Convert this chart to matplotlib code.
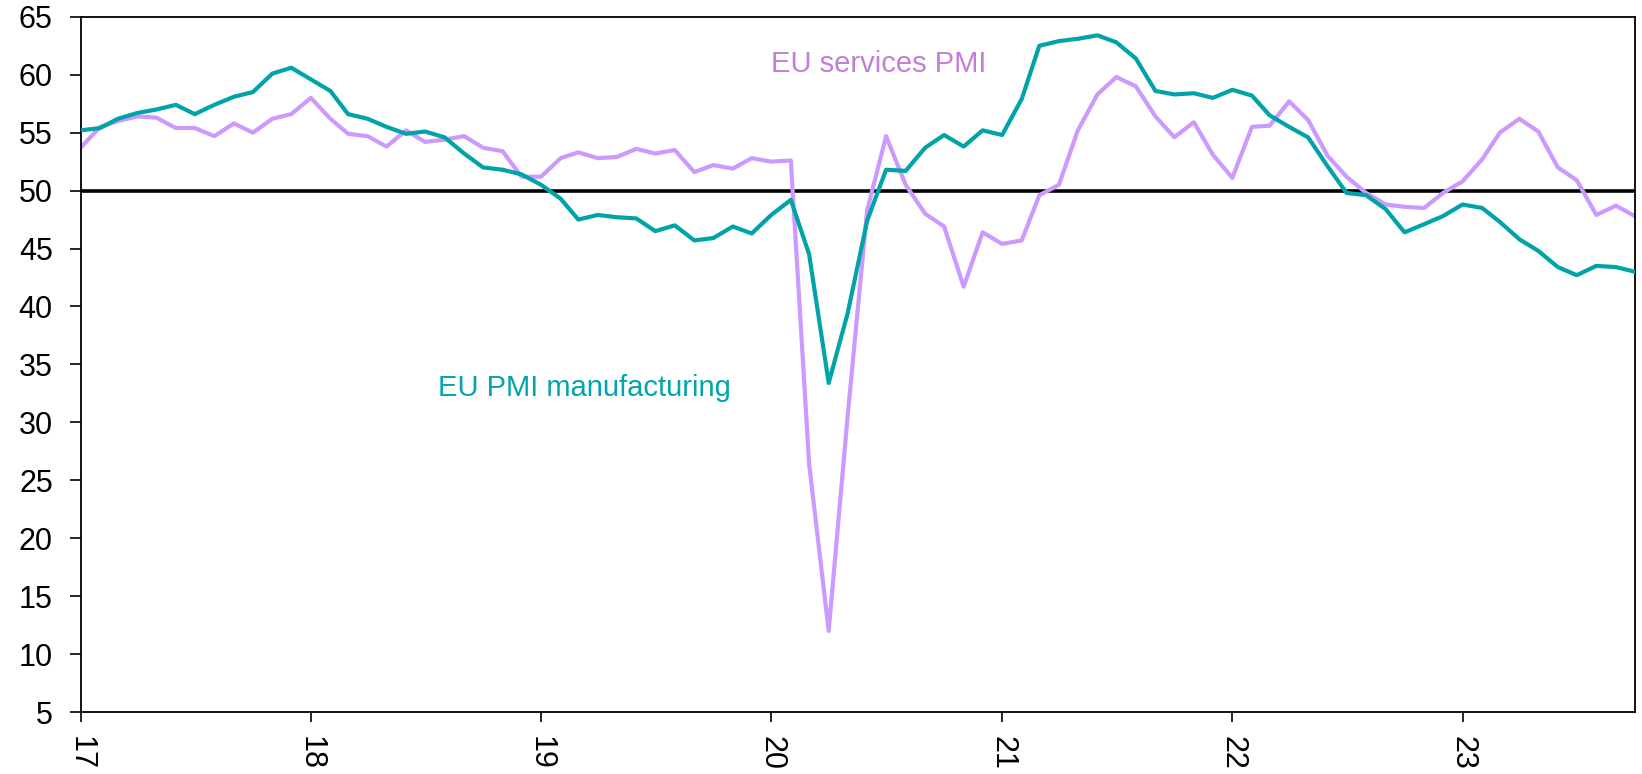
import matplotlib
matplotlib.use("Agg")
import matplotlib.pyplot as plt
import pandas as pd

plt.rcParams['font.family'] = ['Liberation Sans', 'DejaVu Sans']

# monthly readings, Jan 2017 .. Oct 2023
start_month = '2017-01-01'
year_ticks = ['2017', '2018', '2019', '2020', '2021', '2022', '2023']
year_labels = ['17', '18', '19', '20', '21', '22', '23']

pmi_manufacturing = [
    55.2, 55.4, 56.2, 56.7, 57.0, 57.4, 56.6, 57.4, 58.1, 58.5, 60.1, 60.6,
    59.6, 58.6, 56.6, 56.2, 55.5, 54.9, 55.1, 54.6, 53.2, 52.0, 51.8, 51.4,
    50.5, 49.3, 47.5, 47.9, 47.7, 47.6, 46.5, 47.0, 45.7, 45.9, 46.9, 46.3,
    47.9, 49.2, 44.5, 33.4, 39.4, 47.4, 51.8, 51.7, 53.7, 54.8, 53.8, 55.2,
    54.8, 57.9, 62.5, 62.9, 63.1, 63.4, 62.8, 61.4, 58.6, 58.3, 58.4, 58.0,
    58.7, 58.2, 56.5, 55.5, 54.6, 52.1, 49.8, 49.6, 48.4, 46.4, 47.1, 47.8,
    48.8, 48.5, 47.3, 45.8, 44.8, 43.4, 42.7, 43.5, 43.4, 43.0,
]
pmi_services = [
    53.7, 55.5, 56.0, 56.4, 56.3, 55.4, 55.4, 54.7, 55.8, 55.0, 56.2, 56.6,
    58.0, 56.2, 54.9, 54.7, 53.8, 55.2, 54.2, 54.4, 54.7, 53.7, 53.4, 51.2,
    51.2, 52.8, 53.3, 52.8, 52.9, 53.6, 53.2, 53.5, 51.6, 52.2, 51.9, 52.8,
    52.5, 52.6, 26.4, 12.0, 30.5, 48.3, 54.7, 50.5, 48.0, 46.9, 41.7, 46.4,
    45.4, 45.7, 49.6, 50.5, 55.2, 58.3, 59.8, 59.0, 56.4, 54.6, 55.9, 53.1,
    51.1, 55.5, 55.6, 57.7, 56.1, 53.0, 51.2, 49.8, 48.8, 48.6, 48.5, 49.8,
    50.8, 52.7, 55.0, 56.2, 55.1, 52.0, 50.9, 47.9, 48.7, 47.8,
]

dates = pd.date_range(start_month, periods=len(pmi_services), freq='MS')

TEAL = '#00A3A8'
LILAC = '#CC99FF'

fig = plt.figure(figsize=(16.42, 7.74), dpi=100)
ax = fig.add_axes([0.0491, 0.0801, 0.9465, 0.8982])

ax.axhline(50, color='black', lw=2.6, zorder=1)
ax.plot(dates, pmi_services, color=LILAC, lw=3.0, zorder=2)
ax.plot(dates, pmi_manufacturing, color=TEAL, lw=3.0, zorder=3)

ax.text(pd.Timestamp('2020-01-01'), 60.2, 'EU services PMI', color='#C27FD6',
        fontsize=21, va='baseline', ha='left')
ax.text(pd.Timestamp('2018-07-21'), 32.3, 'EU PMI manufacturing', color='#00A5AD',
        fontsize=21, va='baseline', ha='left')

ax.set_xlim(dates[0], dates[-1])
ax.set_ylim(5, 65)
ax.set_yticks(range(5, 66, 5))
ax.set_xticks([pd.Timestamp(y) for y in year_ticks])
ax.set_xticklabels(year_labels, rotation=-90, ha='center', va='top')

ax.tick_params(axis='y', direction='out', length=8, width=1.2, labelsize=22, pad=12)
ax.tick_params(axis='x', direction='out', length=7, width=1.2, labelsize=22, pad=10)
for s in ax.spines.values():
    s.set_color('black')
    s.set_linewidth(1.3)

fig.savefig('out.png', dpi=100)
